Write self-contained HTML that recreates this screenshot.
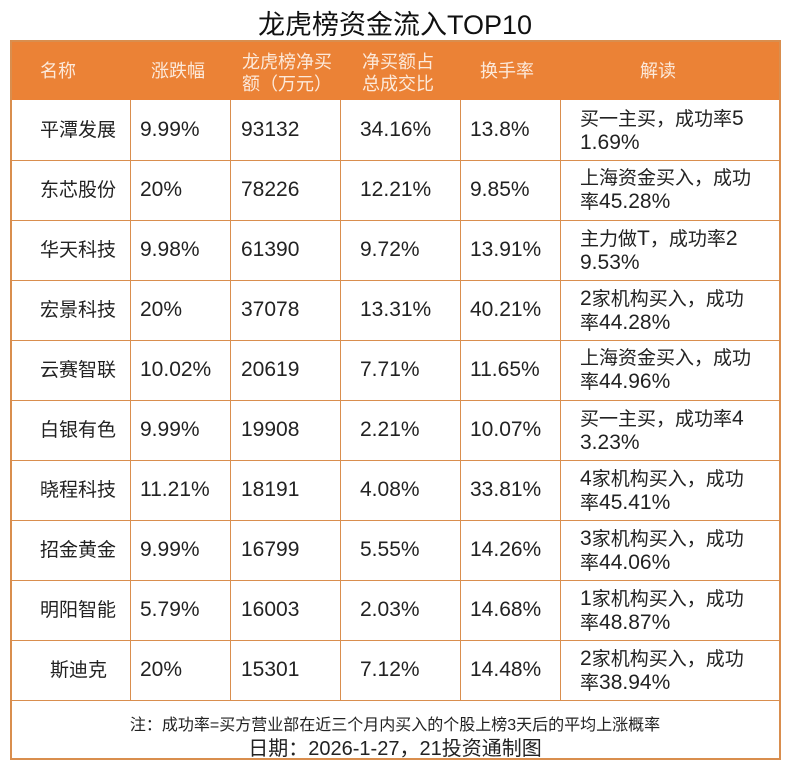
<!DOCTYPE html>
<html><head><meta charset="utf-8"><style>
*{margin:0;padding:0;box-sizing:border-box}
body{width:790px;height:770px;background:#fff;position:relative;font-family:"Liberation Sans","Noto Sans CJK SC",sans-serif;color:#222;overflow:hidden}
.t{position:absolute;left:0;width:790px;top:3px;text-align:center;font-size:27px;color:#111}
.hd{position:absolute;left:10px;top:40px;width:770px;height:60px;background:#EB8236}
.frame{position:absolute;left:10px;top:40px;width:771px;height:720px;border:2px solid #D98E4E}
.h{position:absolute;color:#FCE9DA;font-size:18px;line-height:22px}
.vl{position:absolute;width:1px;background:#D98E4E}
.hl{position:absolute;left:10px;width:770px;height:1px;background:#D98E4E}
.c{position:absolute;font-size:19px;line-height:23px;white-space:nowrap}
.n{font-size:21px}
.note{position:absolute;left:0;width:790px;text-align:center}
</style></head><body>
<div class="t">龙虎榜资金流入TOP10</div>
<div class="hd"></div>
<div class="h" style="left:40px;top:60px">名称</div>
<div class="h" style="left:151px;top:60px">涨跌幅</div>
<div class="h" style="left:242px;top:51px">龙虎榜净买<br>额（万元）</div>
<div class="h" style="left:362px;top:51px">净买额占<br>总成交比</div>
<div class="h" style="left:480px;top:60px">换手率</div>
<div class="h" style="left:640px;top:60px">解读</div>
<div class="frame"></div>
<div class="vl" style="left:130px;top:100px;height:600px"></div>
<div class="vl" style="left:230px;top:100px;height:600px"></div>
<div class="vl" style="left:340px;top:100px;height:600px"></div>
<div class="vl" style="left:460px;top:100px;height:600px"></div>
<div class="vl" style="left:560px;top:100px;height:600px"></div>
<div id="rows"></div>
<div class="note" style="top:711px;font-size:16px">注：成功率=买方营业部在近三个月内买入的个股上榜3天后的平均上涨概率</div>
<div class="note" style="top:732px;font-size:20px">日期：2026-1-27，21投资通制图</div>
<script>
var d=[["平潭发展","9.99%","93132","34.16%","13.8%","买一主买，成功率5","1.69%"],
["东芯股份","20%","78226","12.21%","9.85%","上海资金买入，成功","率45.28%"],
["华天科技","9.98%","61390","9.72%","13.91%","主力做T，成功率2","9.53%"],
["宏景科技","20%","37078","13.31%","40.21%","2家机构买入，成功","率44.28%"],
["云赛智联","10.02%","20619","7.71%","11.65%","上海资金买入，成功","率44.96%"],
["白银有色","9.99%","19908","2.21%","10.07%","买一主买，成功率4","3.23%"],
["晓程科技","11.21%","18191","4.08%","33.81%","4家机构买入，成功","率45.41%"],
["招金黄金","9.99%","16799","5.55%","14.26%","3家机构买入，成功","率44.06%"],
["明阳智能","5.79%","16003","2.03%","14.68%","1家机构买入，成功","率48.87%"],
["斯迪克","20%","15301","7.12%","14.48%","2家机构买入，成功","率38.94%"]];
function w(s){return s.replace(/([0-9.%T]+)/g,'<span class="n">$1</span>');}
var h="";
for(var i=0;i<10;i++){var y=100+i*60,r=d[i];
h+='<div class="hl" style="top:'+(y+60)+'px"></div>';
var cy=y+18;
var nx=r[0].length==3?50:40;
h+='<div class="c" style="left:'+nx+'px;top:'+(cy+1)+'px">'+r[0]+'</div>';
h+='<div class="c" style="left:140px;top:'+cy+'px">'+w(r[1])+'</div>';
h+='<div class="c" style="left:241px;top:'+cy+'px">'+w(r[2])+'</div>';
h+='<div class="c" style="left:360px;top:'+cy+'px">'+w(r[3])+'</div>';
h+='<div class="c" style="left:470px;top:'+cy+'px">'+w(r[4])+'</div>';
h+='<div class="c" style="left:580px;top:'+(y+7)+'px">'+w(r[5])+'<br>'+w(r[6])+'</div>';}
document.getElementById("rows").innerHTML=h;
</script>
</body></html>
